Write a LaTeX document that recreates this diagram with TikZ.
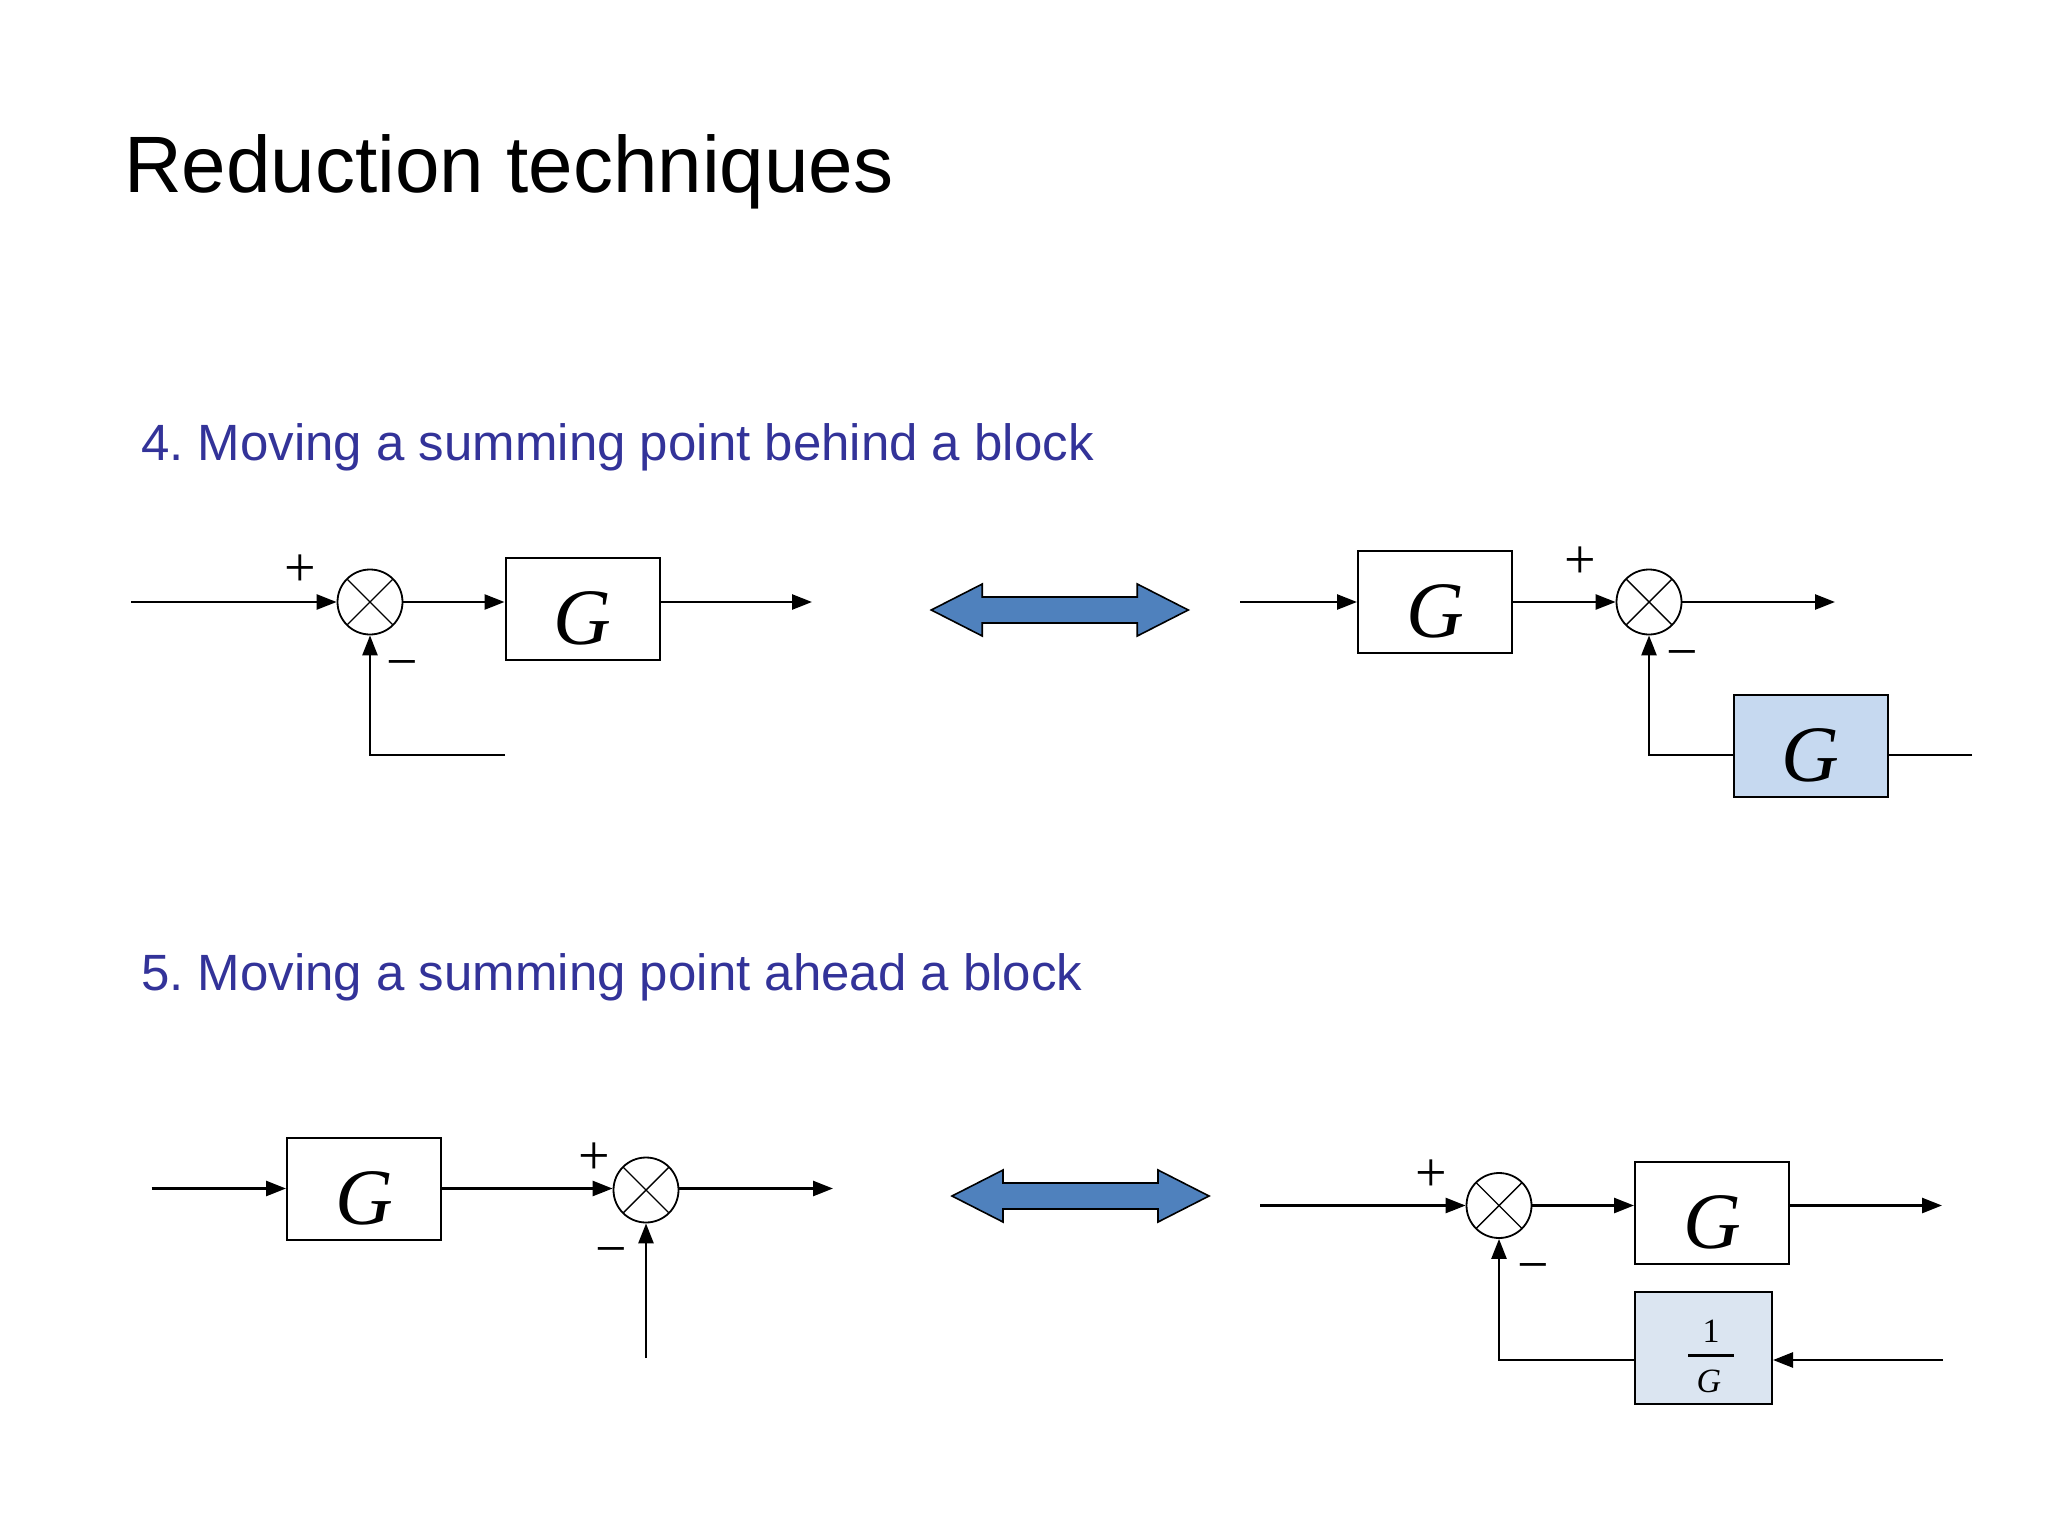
\documentclass[tikz,border=0pt]{standalone}
\usepackage{fontspec}
\setmainfont{Liberation Sans}
\newfontfamily\serifG{Liberation Serif}
\usetikzlibrary{arrows.meta,calc}
\definecolor{subblue}{RGB}{51,51,153}
\definecolor{fillA}{RGB}{198,217,240}
\definecolor{fillB}{RGB}{219,229,241}
\definecolor{arrowblue}{RGB}{79,129,189}
\tikzset{
  sig/.style={line width=2.6pt, -{Triangle[length=20pt,width=15pt]}},
  wire/.style={line width=2.6pt},
  block/.style={draw, line width=2pt, minimum width=154pt, minimum height=102pt, inner sep=0pt,
    text height=71pt, text depth=0pt,
    font=\serifG\itshape\fontsize{80}{80}\selectfont},
  sumnode/.style={circle, draw, line width=1.8pt, minimum size=65pt, inner sep=0pt,
    path picture={\draw[line width=1.4pt]
      (path picture bounding box.north west) -- (path picture bounding box.south east)
      (path picture bounding box.north east) -- (path picture bounding box.south west);}},
  sign/.style={inner sep=0pt, font=\serifG\fontsize{56}{56}\selectfont},
  heading/.style={anchor=base west, inner sep=0pt, text=subblue, font=\fontsize{51}{51}\selectfont},
  fracpart/.style={inner sep=0pt, font=\serifG\fontsize{34}{34}\selectfont},
  dblarrow/.pic={\draw[line width=1.6pt, fill=arrowblue, line join=miter]
    (-128.5,0) -- (-77.5,26) -- (-77.5,13) -- (77.5,13) -- (77.5,26) -- (128.5,0)
    -- (77.5,-26) -- (77.5,-13) -- (-77.5,-13) -- (-77.5,-26) -- cycle;}
}
\frenchspacing
\begin{document}
\begin{tikzpicture}[x=1pt,y=-1pt]
\useasboundingbox (0,0) rectangle (2048,1536);
\fill[white] (0,0) rectangle (2048,1536);

% titles
\node[anchor=base west, inner sep=0pt, font=\fontsize{80}{80}\selectfont] (title) at (124,193) {Reduction techniques};
\node[heading] (h4) at (141,460) {4. Moving a summing point behind a block};
\node[heading] (h5) at (141,990) {5. Moving a summing point ahead a block};

% ---------- 4 left ----------
\coordinate (in1) at (131,602);
\node[sumnode] (s1) at (370,602) {};
\node[block] (g1) at (582.5,608.6) {G};
\coordinate (out1) at (812,602);
\coordinate (fb1) at (505,755);
\draw[sig] (in1) -- (s1.west);
\draw[sig] (s1.east) -- (s1.east -| g1.west);
\draw[sig] (s1.east -| g1.east) -- (out1);
\draw[sig] (fb1) -- (fb1 -| s1) -- (s1.south);
\node[sign] (p1) at (300,571) {+};
\node[sign] (m1) at (402,670) {−};

\pic (dA) at (1059.75,610) {dblarrow};

% ---------- 4 right ----------
\coordinate (in2) at (1240,602);
\node[block] (g2) at (1435,602) {G};
\node[sumnode] (s2) at (1649,602) {};
\coordinate (out2) at (1835,602);
\node[block, fill=fillA] (g3) at (1810.5,746) {G};
\coordinate (fb2) at (1972,755);
\draw[sig] (in2) -- (g2.west);
\draw[sig] (g2.east) -- (s2.west);
\draw[sig] (s2.east) -- (out2);
\draw[wire] (fb2) -- (fb2 -| g3.east);
\draw[sig] (fb2 -| g3.west) -- (fb2 -| s2) -- (s2.south);
\node[sign] (p2) at (1580,563) {+};
\node[sign] (m2) at (1682,660) {−};

% ---------- 5 left ----------
\coordinate (in3) at (151.5,1188.5);
\node[block] (g4) at (364,1188.5) {G};
\node[sumnode] (s3) at (646,1190) {};
\coordinate (out3) at (833,1188.5);
\coordinate (fb3) at (646,1358);
\draw[sig] (in3) -- (g4.west);
\draw[sig] (g4.east) -- (g4.east -| s3.west);
\draw[sig] (s3.east |- in3) -- (out3);
\draw[sig] (fb3) -- (s3.south);
\node[sign] (p3) at (594,1158.5) {+};
\node[sign] (m3) at (611,1257) {−};

\pic (dB) at (1080.5,1196) {dblarrow};

% ---------- 5 right ----------
\coordinate (in4) at (1260,1205.5);
\node[sumnode] (s4) at (1499,1205.5) {};
\node[block] (g5) at (1712,1212.5) {G};
\coordinate (out4) at (1942,1205.5);
\node[block, fill=fillB, minimum width=137pt, minimum height=112pt] (g6) at (1703.5,1348) {};
\node[fracpart] (g6num) at (1711,1331) {1};
\node[fracpart, font=\serifG\itshape\fontsize{34}{34}\selectfont] (g6den) at (1709,1381) {G};
\draw[line width=2.2pt] ($(g6num.south)+(-23,13)$) -- ($(g6num.south)+(23,13)$);
\coordinate (fb4) at (1943,1360);
\draw[sig] (in4) -- (s4.west);
\draw[sig] (s4.east) -- (s4.east -| g5.west);
\draw[sig] (s4.east -| g5.east) -- (out4);
\draw[sig] (fb4) -- (fb4 -| g6.east);
\draw[sig] (fb4 -| g6.west) -- (fb4 -| s4) -- (s4.south);
\node[sign] (p4) at (1431,1175.5) {+};
\node[sign] (m4) at (1533,1273) {−};
\end{tikzpicture}
\end{document}
